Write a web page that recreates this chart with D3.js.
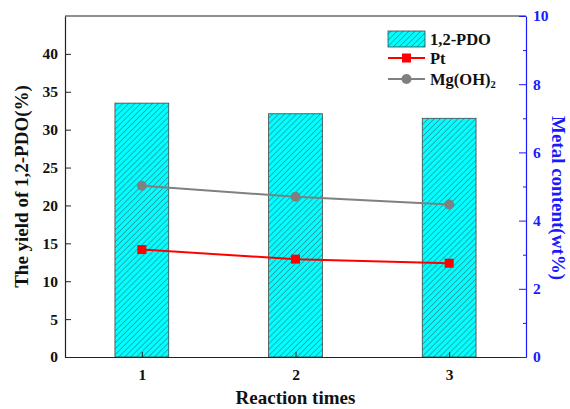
<!DOCTYPE html>
<html><head><meta charset="utf-8">
<script src="https://cdn.jsdelivr.net/npm/d3@7"></script>
<style>body{margin:0;background:#fff}svg{display:block}</style>
</head><body>
<svg id="c" width="570" height="409"></svg>
<script>
const categories = [1, 2, 3];
const pdoYield = [33.5, 32.1, 31.5];
const ptContent = [3.15, 2.87, 2.75];
const mgContent = [5.02, 4.7, 4.47];
const leftTicks = [0, 5, 10, 15, 20, 25, 30, 35, 40];
const rightTicks = [0, 2, 4, 6, 8, 10];

const svg = d3.select("#c");
const L = 65, R = 526, T = 16, B = 357;
const font = "'Liberation Serif','Times New Roman',serif";
const blue = "#1a1aff";

const x = d3.scaleLinear().domain([0.5, 3.5]).range([L, R]);
const yL = d3.scaleLinear().domain([0, 45]).range([B, T]);
const yR = d3.scaleLinear().domain([0, 10]).range([B, T]);

const defs = svg.append("defs");
const pat = defs.append("pattern").attr("id", "hatch").attr("patternUnits", "userSpaceOnUse")
  .attr("width", 4.2).attr("height", 4.2).attr("patternTransform", "rotate(45)");
pat.append("rect").attr("width", 4.2).attr("height", 4.2).attr("fill", "#00ffff");
pat.append("line").attr("x1", 0).attr("y1", 0).attr("x2", 0).attr("y2", 4.2)
  .attr("stroke", "#267a82").attr("stroke-width", 1.2);

// bars
const bw = 0.35 * (x(1) - x(0));
svg.selectAll(".bar").data(categories).join("rect")
  .attr("x", d => x(d) - bw / 2).attr("width", bw)
  .attr("y", (d, i) => yL(pdoYield[i])).attr("height", (d, i) => B - yL(pdoYield[i]))
  .attr("fill", "url(#hatch)").attr("stroke", "#444").attr("stroke-width", 0.8);

// frame top
svg.append("line").attr("x1", L).attr("x2", R).attr("y1", T).attr("y2", T).attr("stroke", "#222").attr("stroke-width", 1.2);

// left axis
const gL = svg.append("g").attr("transform", `translate(${L},0)`)
  .call(d3.axisLeft(yL).tickValues(leftTicks).tickSizeInner(-6).tickSizeOuter(0).tickPadding(7));
gL.select(".domain").attr("stroke", "#222").attr("stroke-width", 1.2);
gL.selectAll(".tick line").attr("stroke", "#222");
gL.selectAll("text").attr("font-family", font).attr("font-weight", "bold").attr("font-size", 15.5).attr("fill", "#111");

// bottom axis
const gB = svg.append("g").attr("transform", `translate(0,${B})`)
  .call(d3.axisBottom(x).tickValues(categories).tickFormat(d3.format("d")).tickSizeInner(-5).tickSizeOuter(0).tickPadding(12));
gB.select(".domain").attr("stroke", "#222").attr("stroke-width", 1.2);
gB.selectAll(".tick line").attr("stroke", "#222");
gB.selectAll("text").attr("font-family", font).attr("font-weight", "bold").attr("font-size", 15.5).attr("fill", "#111");

// right axis
const gR = svg.append("g").attr("transform", `translate(${R},0)`)
  .call(d3.axisRight(yR).tickValues(d3.range(0, 10.5, 1)).tickSizeInner(-7).tickSizeOuter(0).tickPadding(7)
    .tickFormat(d => rightTicks.includes(d) ? d : ""));
gR.select(".domain").attr("stroke", blue).attr("stroke-width", 1.2);
gR.selectAll(".tick line").attr("stroke", blue).attr("x2", d => rightTicks.includes(d) ? -7 : -3);
gR.selectAll("text").attr("font-family", font).attr("font-weight", "bold").attr("font-size", 15.5).attr("fill", blue);

// lines
const line = d3.line().x(d => x(d[0])).y(d => yR(d[1]));
const ptData = categories.map((c, i) => [c, ptContent[i]]);
const mgData = categories.map((c, i) => [c, mgContent[i]]);
svg.append("path").datum(mgData).attr("d", line).attr("fill", "none").attr("stroke", "#808080").attr("stroke-width", 2);
svg.selectAll(".mg").data(mgData).join("circle").attr("cx", d => x(d[0])).attr("cy", d => yR(d[1])).attr("r", 5).attr("fill", "#808080");
svg.append("path").datum(ptData).attr("d", line).attr("fill", "none").attr("stroke", "#ff0000").attr("stroke-width", 2);
svg.selectAll(".pt").data(ptData).join("rect").attr("x", d => x(d[0]) - 4.5).attr("y", d => yR(d[1]) - 4.5)
  .attr("width", 9).attr("height", 9).attr("fill", "#ff0000");

// legend
const lg = svg.append("g");
lg.append("rect").attr("x", 388).attr("y", 31).attr("width", 37).attr("height", 16)
  .attr("fill", "url(#hatch)").attr("stroke", "#444").attr("stroke-width", 0.8);
lg.append("text").attr("x", 430).attr("y", 45).text("1,2-PDO");
lg.append("line").attr("x1", 388).attr("x2", 425).attr("y1", 58).attr("y2", 58).attr("stroke", "#ff0000").attr("stroke-width", 2);
lg.append("rect").attr("x", 402).attr("y", 53.5).attr("width", 9).attr("height", 9).attr("fill", "#ff0000");
lg.append("text").attr("x", 430).attr("y", 64).text("Pt");
lg.append("line").attr("x1", 388).attr("x2", 425).attr("y1", 79).attr("y2", 79).attr("stroke", "#808080").attr("stroke-width", 2);
lg.append("circle").attr("cx", 406.5).attr("cy", 79).attr("r", 5).attr("fill", "#808080");
const mgT = lg.append("text").attr("x", 430).attr("y", 85);
mgT.append("tspan").text("Mg(OH)");
mgT.append("tspan").attr("dy", 3).attr("class", "sub").text("2");
lg.selectAll("text").attr("font-family", font).attr("font-weight", "bold").attr("font-size", 16.5).attr("fill", "#111");
mgT.select(".sub").attr("font-size", 10.5);

// titles
svg.append("text").attr("transform", `translate(28,${(T + B) / 2}) rotate(-90)`).attr("text-anchor", "middle")
  .attr("font-family", font).attr("font-weight", "bold").attr("font-size", 19).attr("fill", "#111")
  .text("The yield of 1,2-PDO(%)");
svg.append("text").attr("transform", `translate(552,198) rotate(90)`).attr("text-anchor", "middle")
  .attr("font-family", font).attr("font-weight", "bold").attr("font-size", 19).attr("fill", blue)
  .text("Metal content(wt%)");
svg.append("text").attr("x", (L + R) / 2).attr("y", 404).attr("text-anchor", "middle")
  .attr("font-family", font).attr("font-weight", "bold").attr("font-size", 19).attr("fill", "#111")
  .text("Reaction times");
</script>
</body></html>
